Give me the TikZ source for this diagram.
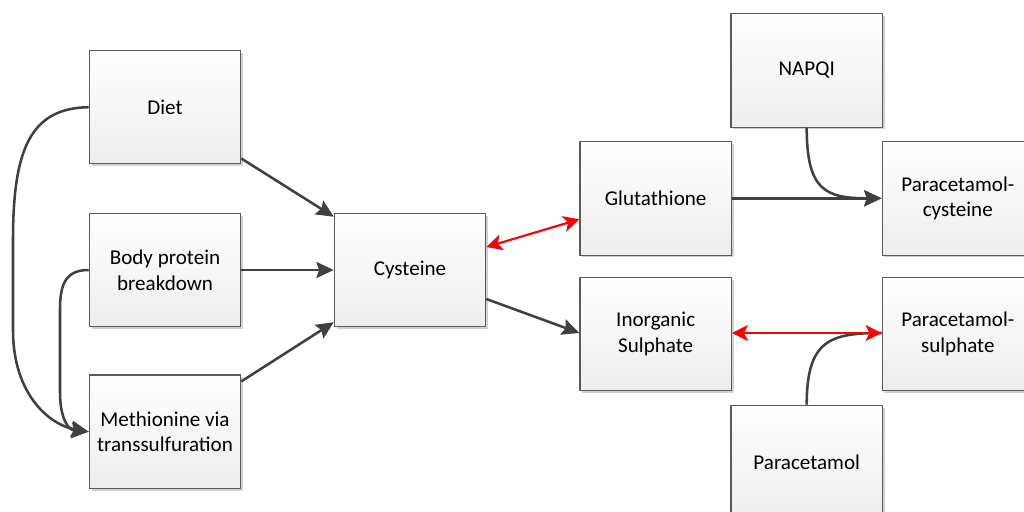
\documentclass[tikz,border=0pt]{standalone}
\usepackage{fontspec}
\setmainfont{Carlito}
\usetikzlibrary{arrows.meta,calc,shadows}
\definecolor{linegrey}{HTML}{404040}
\definecolor{boxline}{HTML}{5A5A5A}
\tikzset{
  box/.style={draw=boxline, line width=0.8pt, rectangle,
    top color=white, bottom color=black!7,
    minimum width=113.6pt, minimum height=85.1pt, align=center,
    font=\fontsize{15.8}{19.3}\selectfont,
    drop shadow={shadow xshift=1.8pt, shadow yshift=-1.8pt, opacity=0.18, fill=black}},
  darr/.style={draw=linegrey, line width=1.9pt, -{Stealth[length=13pt,width=12pt,inset=2pt]}},
  dline/.style={draw=linegrey, line width=1.9pt},
  rarr/.style={draw=red, line width=1.6pt, {Stealth[length=12pt,width=12pt,inset=3pt]}-{Stealth[length=12pt,width=12pt,inset=3pt]}}
}
\begin{document}
\begin{tikzpicture}[x=0.75pt,y=-0.75pt]
\path[use as bounding box, clip] (0,0) rectangle (1024,511);
\fill[white] (0,0) rectangle (1024,511);
\node[box] (Diet) at (165,107.2) {Diet};
\node[box] (Body) at (165,270) {Body protein\\breakdown};
\node[box] (Meth) at (165,431.7) {Methionine via\\transsulfuration};
\node[box] (Cys) at (410,270) {Cysteine};
\node[box] (Glut) at (655.7,198.3) {Glutathione};
\node[box] (Inorg) at (655.7,334) {Inorganic\\Sulphate};
\node[box] (NAPQI) at (806.7,70.3) {NAPQI};
\node[box] (ParaCys) at (957.8,198.3) {Paracetamol-\\cysteine};
\node[box] (ParaSul) at (957.8,334) {Paracetamol-\\sulphate};
\node[box] (Para) at (806.7,462) {Paracetamol};

\draw[darr] ($(Diet.south east)+(0,-6)$) -- ($(Cys.north west)+(0,4)$);
\draw[darr] (Body.east) -- (Cys.west);
\draw[darr] ($(Meth.north east)+(0,7)$) -- ($(Cys.south west)+(0,-5)$);
\draw[darr] (Diet.west) .. controls (30,108) and (13,150) .. (13,240) -- (13,330) .. controls (13,395) and (50,425) .. (Meth.west);
\draw[darr] (Body.west) .. controls (65,270) and (60,285) .. (60,310) -- (60,392) .. controls (60,418) and (68,430) .. (Meth.west);

\draw[rarr] ($(Cys.east)+(0,-23)$) -- ($(Glut.west)+(0,21)$);
\draw[darr] ($(Cys.east)+(0,29)$) -- ($(Inorg.west)+(0,-1)$);
\draw[darr] (Glut.east) -- (ParaCys.west);
\draw[darr] (NAPQI.south) .. controls (806.7,190) and (825,198.3) .. (ParaCys.west);
\draw[dline] (Para.north) .. controls (806.7,340) and (830,333) .. ($(ParaSul.west)+(0,-1)$);
\draw[rarr] ($(Inorg.east)+(0,-1)$) -- ($(ParaSul.west)+(0,-1)$);
\end{tikzpicture}
\end{document}
